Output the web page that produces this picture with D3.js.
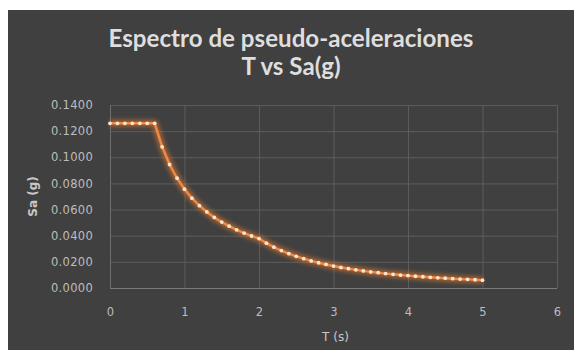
<!DOCTYPE html>
<html>
<head>
<meta charset="utf-8">
<script src="https://cdn.jsdelivr.net/npm/d3@7"></script>
<style>
  html, body { margin: 0; padding: 0; background: #ffffff; }
  svg { display: block; }
</style>
</head>
<body>
<svg id="chart" width="574" height="350"></svg>
<script>
// Periods T (s)
const periods = [0.0,0.1,0.2,0.3,0.4,0.5,0.6,0.7,0.8,0.9,1.0,1.1,1.2,1.3,1.4,1.5,1.6,1.7,1.8,1.9,2.0,
  2.1,2.2,2.3,2.4,2.5,2.6,2.7,2.8,2.9,3.0,3.1,3.2,3.3,3.4,3.5,3.6,3.7,3.8,3.9,4.0,
  4.1,4.2,4.3,4.4,4.5,4.6,4.7,4.8,4.9,5.0];
// Spectral pseudo-acceleration Sa (g)
const saValues = [0.1260,0.1260,0.1260,0.1260,0.1260,0.1260,0.1260,0.1080,0.0945,0.0840,0.0756,
  0.0687,0.0630,0.0582,0.0540,0.0504,0.0473,0.0445,0.0420,0.0398,0.0378,
  0.0343,0.0312,0.0286,0.0263,0.0242,0.0224,0.0207,0.0193,0.0180,0.0168,
  0.0157,0.0148,0.0139,0.0131,0.0123,0.0117,0.0110,0.0105,0.0099,0.0095,
  0.0090,0.0086,0.0082,0.0078,0.0075,0.0071,0.0068,0.0066,0.0063,0.0060];
const xTicks = [0,1,2,3,4,5,6];
const yTicks = [0,0.02,0.04,0.06,0.08,0.10,0.12,0.14];
const titleLines = ["Espectro de pseudo-aceleraciones", "T vs Sa(g)"];
const xTitle = "T (s)";
const yTitle = "Sa (g)";

const data = periods.map((t, i) => ({ t, sa: saValues[i] }));

const svg = d3.select("#chart");
const plot = { left: 110, right: 557, top: 105, bottom: 288 };

// Dark chart card
svg.append("rect").attr("x", 8).attr("y", 10).attr("width", 574 - 8).attr("height", 350 - 10)
  .attr("fill", "#404040");

const x = d3.scaleLinear().domain([0, 6]).range([plot.left, plot.right]);
const y = d3.scaleLinear().domain([0, 0.14]).range([plot.bottom, plot.top]);

const defs = svg.append("defs");
defs.append("filter").attr("id", "glow").attr("x", "-10%").attr("y", "-20%").attr("width", "120%").attr("height", "140%")
  .append("feGaussianBlur").attr("stdDeviation", 2.2);

// Gridlines
const gx = svg.append("g")
  .attr("transform", `translate(0,${plot.bottom})`)
  .call(d3.axisBottom(x).tickValues(xTicks).tickSize(-(plot.bottom - plot.top)).tickFormat(""));
gx.selectAll("line").attr("stroke", "#5c5c5c").attr("stroke-width", 1);
gx.select(".domain").remove();

const gy = svg.append("g")
  .attr("transform", `translate(${plot.left},0)`)
  .call(d3.axisLeft(y).tickValues(yTicks).tickSize(-(plot.right - plot.left)).tickFormat(""));
gy.selectAll("line").attr("stroke", "#5c5c5c").attr("stroke-width", 1);
gy.select(".domain").remove();

// Axis lines
svg.append("line").attr("x1", plot.left).attr("x2", plot.right).attr("y1", y(0) + 0.5).attr("y2", y(0) + 0.5)
  .attr("stroke", "#7a7a7a").attr("stroke-width", 1.2);
svg.append("line").attr("x1", x(0) + 0.5).attr("x2", x(0) + 0.5).attr("y1", plot.top).attr("y2", plot.bottom)
  .attr("stroke", "#6e6e6e").attr("stroke-width", 1);

// Tick labels
const tickFont = "'DejaVu Sans', sans-serif";
const xl = svg.append("g")
  .attr("transform", `translate(0,${plot.bottom})`)
  .call(d3.axisBottom(x).tickValues(xTicks).tickSize(0).tickPadding(20).tickFormat(d3.format("d")));
xl.select(".domain").remove();
xl.selectAll("text").attr("fill", "#bdbdbd").attr("font-family", tickFont).attr("font-size", 11.5);

const yl = svg.append("g")
  .attr("transform", `translate(${plot.left},0)`)
  .call(d3.axisLeft(y).tickValues(yTicks).tickSize(0).tickPadding(17).tickFormat(d3.format(".4f")));
yl.select(".domain").remove();
yl.selectAll("text").attr("fill", "#bdbdbd").attr("font-family", tickFont).attr("font-size", 11.5)
  .attr("letter-spacing", 0.3);

// Axis titles
svg.append("text").attr("x", (plot.left + plot.right) / 2 + 2).attr("y", 341)
  .attr("text-anchor", "middle").attr("fill", "#c8c8c8")
  .attr("font-family", tickFont).attr("font-size", 12).text(xTitle);
svg.append("text").attr("transform", `translate(37,${(plot.top + plot.bottom) / 2}) rotate(-90)`)
  .attr("text-anchor", "middle").attr("fill", "#c8c8c8")
  .attr("font-family", tickFont).attr("font-size", 12).attr("font-weight", "bold").text(yTitle);

// Title
const title = svg.append("g");
title.selectAll("text").data(titleLines).join("text")
  .attr("x", 291).attr("y", (d, i) => 47 + i * 28)
  .attr("text-anchor", "middle").attr("fill", "#dedede")
  .attr("font-family", "Lato, 'Open Sans', sans-serif").attr("font-weight", "bold")
  .attr("font-size", 21).text(d => d);
// fit first line to its width
const first = title.select("text").node();
const w = first.getComputedTextLength();
if (w > 0) {
  const fs = 21 * 365 / w;
  title.selectAll("text").attr("font-size", fs);
}

// Series: glow, line, markers
const line = d3.line().x(d => x(d.t)).y(d => y(d.sa));
svg.append("path").datum(data).attr("d", line)
  .attr("fill", "none").attr("stroke", "#ed7d31").attr("stroke-width", 7).attr("stroke-opacity", 0.55)
  .attr("stroke-linejoin", "round").attr("filter", "url(#glow)");
svg.append("path").datum(data).attr("d", line)
  .attr("fill", "none").attr("stroke", "#f08a45").attr("stroke-width", 2.4).attr("stroke-linejoin", "round");
svg.append("g").selectAll("circle").data(data).join("circle")
  .attr("cx", d => x(d.t)).attr("cy", d => y(d.sa)).attr("r", 1.9)
  .attr("fill", "#fde3cc");
</script>
</body>
</html>
